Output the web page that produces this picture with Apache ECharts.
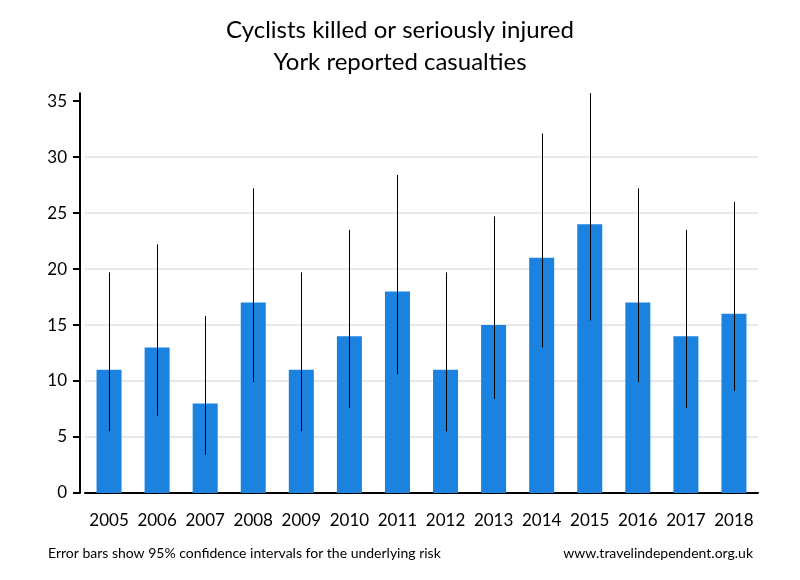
<!DOCTYPE html>
<html>
<head>
<meta charset="utf-8">
<script src="https://cdn.jsdelivr.net/npm/echarts@6/dist/echarts.min.js"></script>
<style>html,body{margin:0;padding:0;background:#fff}#c{width:800px;height:580px}</style>
</head>
<body>
<div id="c"></div>
<script>
var years = ['2005','2006','2007','2008','2009','2010','2011','2012','2013','2014','2015','2016','2017','2018'];
var casualties = [11,13,8,17,11,14,18,11,15,21,24,17,14,16];
var ciLow = [5.5,6.9,3.4,9.9,5.5,7.6,10.6,5.5,8.4,13.0,15.4,9.9,7.6,9.1];
var ciHigh = [19.7,22.2,15.8,27.2,19.7,23.5,28.4,19.7,24.7,32.1,35.7,27.2,23.5,26.0];
var yTicks = [0,5,10,15,20,25,30,35];

var font = 'Lato';
var chart = echarts.init(document.getElementById('c'), null, {renderer:'canvas'});
chart.setOption({
  animation:false,
  backgroundColor:'#fff',
  title:{
    text:'Cyclists killed or seriously injured\nYork reported casualties',
    left:'center', top:9,
    textStyle:{fontFamily:font, fontSize:24, fontWeight:'normal', color:'#000', lineHeight:32}
  },
  graphic:[
    {type:'text', left:48, top:546, style:{text:'Error bars show 95% confidence intervals for the underlying risk', font:'14px '+font, fill:'#000'}},
    {type:'text', right:47, top:546, style:{text:'www.travelindependent.org.uk', font:'14px '+font, fill:'#000'}}
  ],
  grid:{left:85, right:42, top:93.2, bottom:87},
  xAxis:{
    type:'category', data:years,
    axisLine:{lineStyle:{color:'#000', width:2}},
    axisTick:{show:false},
    axisLabel:{color:'#000', fontFamily:font, fontSize:17, margin:19, interval:0}
  },
  yAxis:{
    type:'value', min:0, max:35.7, interval:5, offset:5,
    axisLine:{show:true, lineStyle:{color:'#000', width:2}},
    axisTick:{show:true, length:7, lineStyle:{color:'#000', width:2}, customValues:yTicks},
    axisLabel:{color:'#000', fontFamily:font, fontSize:17, margin:13, customValues:yTicks},
    splitLine:{show:true, showMaxLine:false, lineStyle:{color:'#e8e8e8', width:2}}
  },
  series:[
    {type:'bar', data:casualties, barWidth:25, itemStyle:{color:'#1b82e0'}},
    {type:'custom', data:years.map(function(y,i){return [i, ciLow[i], ciHigh[i]];}),
     encode:{x:0, y:[1,2]},
     renderItem:function(params, api){
       var a = api.coord([api.value(0), api.value(1)]);
       var b = api.coord([api.value(0), api.value(2)]);
       var x = Math.round(a[0]) + 0.5;
       return {type:'line', shape:{x1:x, y1:a[1], x2:x, y2:b[1]}, style:{stroke:'#000', lineWidth:1}};
     }, z:5}
  ]
});
</script>
</body>
</html>
